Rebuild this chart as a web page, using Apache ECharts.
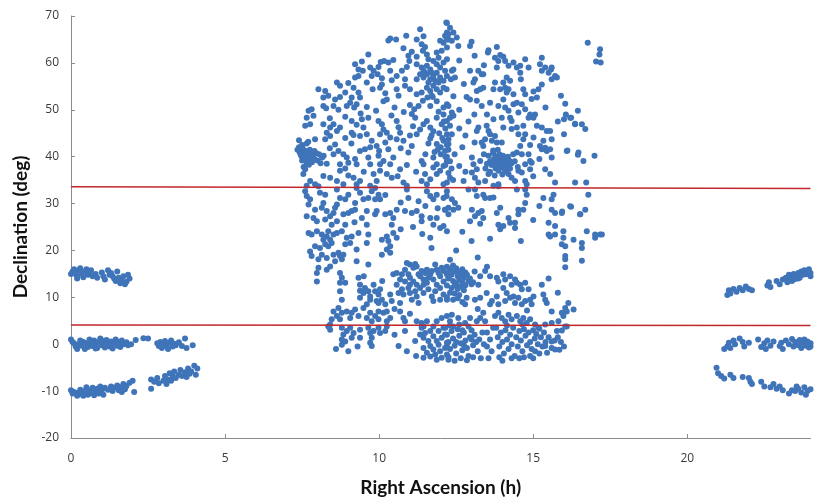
<!DOCTYPE html>
<html>
<head>
<meta charset="utf-8">
<script src="https://cdn.jsdelivr.net/npm/echarts@6/dist/echarts.min.js"></script>
<style>html,body{margin:0;padding:0;background:#ffffff;}#chart{width:818px;height:502px;}</style>
</head>
<body>
<div id="chart"></div>
<script>
// ---- axis settings ----
var xTicks = [0, 5, 10, 15, 20];
var yTicks = [-20, -10, 0, 10, 20, 30, 40, 50, 60, 70];

// ---- red reference lines (declination limits) ----
var upperLimit = [[0, 33.6], [24, 33.2]];
var lowerLimit = [[0, 4.1], [24, 4.0]];

// ---- left-edge groups (RA 0-4h) ----
var leftHigh = [[0.05,15.5],[0.1,16],[0.15,15],[0.2,14.5],[0.25,15.8],[0.3,16.2],[0.35,15],[0.4,14.3],[0.45,15.5],[0.5,16],[0.55,14.8],[0.6,15.2],[0.7,14.5],[0.8,15],[0.85,14.2],[1.0,15.3],[1.05,14.5],[1.1,13.8],[1.2,15.8],[1.25,14.8],[1.3,15.2],[1.4,14],[1.45,13.5],[1.5,15.5],[1.55,14.2],[1.6,13],[1.65,13.5],[1.7,14.5],[1.75,12.8],[1.8,13.3],[1.85,14.8],[1.9,14],[0.0,15],[0.2,14],[0.65,15.8],[1.35,14.5]];
var leftMid = [[0.0,1],[0.05,0.5],[0.1,0.2],[0.15,-0.5],[0.2,-1],[0.25,0],[0.3,0.8],[0.35,-0.3],[0.4,0.5],[0.45,-1],[0.5,0.2],[0.55,-0.6],[0.6,1],[0.65,0.3],[0.7,-0.4],[0.75,0.8],[0.8,0],[0.85,-0.8],[0.9,0.5],[0.95,1.2],[1.0,-0.2],[1.05,0.4],[1.1,-0.7],[1.15,0.9],[1.2,0.1],[1.25,-0.5],[1.3,0.6],[1.35,-0.9],[1.4,0.3],[1.45,1.0],[1.5,-0.3],[1.55,0.5],[1.6,-0.6],[1.65,0.8],[1.7,0],[1.8,0.4],[1.85,-0.2],[1.95,0],[2.1,0.9],[2.35,1.3],[2.5,1.2],[2.8,0.2],[2.85,-0.4],[2.9,0.5],[2.95,-0.8],[3.0,0],[3.05,0.7],[3.1,-0.3],[3.15,-1],[3.2,0.3],[3.25,0.8],[3.3,-0.5],[3.35,0.1],[3.4,-0.2],[3.5,0.4],[3.6,-0.4],[3.7,1.2],[3.75,-0.8],[3.95,-0.2],[1.0,0.8],[0.8,-0.9],[1.3,-0.1]];
var leftLow = [[0.0,-9.8],[0.05,-10.5],[0.1,-10.2],[0.2,-11],[0.25,-10.3],[0.3,-9.7],[0.35,-10.6],[0.4,-11],[0.45,-10],[0.5,-9.2],[0.55,-10.8],[0.6,-9.8],[0.65,-10.4],[0.7,-9.3],[0.75,-10.9],[0.8,-10],[0.85,-9.5],[0.9,-10.5],[0.95,-9],[1.0,-9.8],[1.05,-10.8],[1.1,-9.3],[1.2,-9.7],[1.3,-9],[1.35,-10],[1.4,-9.3],[1.5,-8.8],[1.55,-9.8],[1.6,-9.2],[1.65,-10.2],[1.7,-8.5],[1.75,-9.6],[1.8,-8.9],[1.9,-8.2],[2.0,-7.8],[2.05,-10.2],[2.6,-9.5],[2.6,-7.5],[2.7,-8],[2.8,-7.2],[2.85,-8.3],[3.0,-7.8],[3.05,-6.8],[3.1,-8.5],[3.15,-7.5],[3.2,-6.2],[3.25,-7.8],[3.3,-6.8],[3.35,-5.8],[3.4,-7.2],[3.5,-6.5],[3.55,-5.5],[3.6,-6.8],[3.7,-6],[3.75,-7],[3.8,-5.2],[3.85,-6.3],[3.9,-5.8],[4.0,-4.6],[4.05,-6.5],[4.1,-5.2]];

// ---- right-edge groups (RA 21-24h) ----
var rightHigh = [[21.3,10.5],[21.35,11.5],[21.4,10.8],[21.5,11.8],[21.6,11.2],[21.7,12],[21.8,11.5],[21.9,12.3],[22.0,11.8],[22.1,11.5],[22.6,12.5],[22.65,13.2],[22.7,12.2],[22.9,13.5],[23.0,12.8],[23.1,13.8],[23.2,14.2],[23.25,13.2],[23.3,14.8],[23.35,13.8],[23.4,14.3],[23.45,15],[23.5,13.9],[23.55,14.6],[23.6,15.2],[23.65,14.2],[23.7,15.5],[23.75,14.8],[23.8,15.8],[23.85,14.9],[23.9,15.3],[23.95,16],[24.0,15.2],[24.0,14.5],[23.6,14],[23.4,13.5]];
var rightMid = [[21.2,-1],[21.3,-0.5],[21.35,0.3],[21.4,-0.8],[21.5,0.8],[21.55,0],[21.7,1.2],[21.8,0.5],[21.85,-0.5],[22.0,0.3],[22.3,1],[22.4,-0.6],[22.5,0.2],[22.55,-1],[22.6,0.8],[22.7,-0.3],[22.8,0.6],[23.0,-0.4],[23.05,0.3],[23.1,-1],[23.2,0.8],[23.3,0],[23.4,1.1],[23.45,-0.5],[23.5,0.5],[23.6,-0.2],[23.65,0.9],[23.7,-0.8],[23.75,0.3],[23.8,1],[23.85,-0.3],[23.9,0.6],[23.95,-0.7],[24.0,0.2],[24.0,-0.5],[23.9,0.0]];
var rightLow = [[20.95,-5],[21.0,-6.2],[21.1,-6.8],[21.2,-7.3],[21.4,-6.5],[21.5,-7.2],[21.8,-7],[22.0,-7.2],[22.05,-8],[22.1,-8.5],[22.4,-8],[22.5,-9],[22.7,-9.2],[22.8,-8.5],[22.9,-9.5],[23.0,-9],[23.1,-9.8],[23.3,-10.5],[23.4,-9.8],[23.5,-10],[23.55,-9],[23.6,-9.5],[23.7,-10.3],[23.8,-9.2],[23.85,-10.8],[23.9,-10],[24.0,-9.6]];

// ---- central field, north-west part (RA 7-12.3h, Dec 33-69) ----
var coreNW = [[12.18,68.6],[12.2,66.5],[11.33,67.2],[11.44,65.7],[10.88,65.8],[10.3,64.8],[10.36,65.2],[10.55,65.0],[11.22,65.0],[12.14,65.8],[12.09,64.3],[11.98,64.7],[12.25,65.0],
[11.38,64.0],[11.49,63.4],[11.42,62.6],[11.55,61.8],[10.79,63.1],[11.06,62.4],[10.95,61.5],[11.87,62.2],[12.03,62.6],[12.2,63.3],[9.65,61.8],[11.22,61.3],
[9.22,59.7],[9.44,60.3],[9.33,58.6],[9.47,58.3],[9.71,59.0],[9.82,58.3],[10.05,60.2],[9.98,59.1],[10.16,60.4],[10.3,60.1],[10.46,60.6],[10.74,58.3],[10.9,59.1],[10.98,60.4],[11.22,59.7],[11.38,59.0],[11.55,59.4],[11.66,58.6],[11.76,60.4],[11.87,59.7],[11.98,59.0],[12.09,60.1],[12.2,60.8],[11.44,58.3],[11.6,60.8],[11.93,61.1],
[9.22,56.9],[9.33,57.2],[9.76,57.2],[9.95,57.6],[10.09,56.7],[10.36,58.3],[10.41,56.3],[10.57,57.2],[10.84,56.5],[11.33,57.6],[11.44,56.9],[11.55,57.6],[11.66,56.5],[11.76,57.2],[11.87,57.9],[11.98,56.9],[12.09,56.2],[11.82,56.2],[11.6,55.8],[12.2,57.2],[11.22,56.5],[11.71,57.9],[11.93,55.8],[11.49,57.9],
[8.63,55.8],[8.73,55.1],[9.0,55.7],[9.17,54.7],[9.33,53.7],[9.38,52.6],[9.11,52.6],[8.03,54.4],[8.25,54.0],[8.35,53.0],[8.19,52.6],[8.57,52.2],[8.73,52.7],[8.9,53.7],[9.79,54.4],[10.03,54.7],[10.09,55.4],[10.57,54.4],[10.63,53.0],[10.84,55.1],[11.0,54.4],[11.55,54.7],[11.66,54.0],[11.76,55.1],[11.87,54.4],[11.98,53.7],[11.71,53.0],[12.09,54.7],[11.22,53.3],[11.38,53.7],
[9.06,51.5],[8.19,50.8],[8.28,50.3],[8.52,50.8],[8.68,50.0],[8.95,50.8],[9.19,50.5],[9.27,51.2],[9.6,50.6],[10.25,52.2],[10.14,51.8],[11.0,51.0],[11.14,50.1],[11.28,50.8],[11.06,49.1],[11.42,51.9],[11.57,52.6],[11.74,52.7],[11.66,50.8],[11.87,51.8],[12.09,50.5],[12.2,51.2],[7.71,49.8],
[7.81,50.1],[7.65,48.3],[7.87,48.7],[7.6,46.6],[7.76,46.9],[8.19,46.9],[8.41,46.2],[8.52,46.9],[9.11,47.6],[9.27,46.8],[9.44,48.0],[9.49,46.2],[9.65,48.3],[9.98,47.6],[10.09,46.9],[10.57,47.6],[10.63,46.3],[11.17,48.3],[11.55,47.6],[11.87,48.3],[11.93,49.6],[12.09,49.0],[12.2,47.6],[12.03,46.9],
[8.63,45.5],[8.73,46.2],[8.3,45.1],[8.41,44.4],[9.11,45.1],[9.17,44.6],[9.38,44.4],[9.6,44.8],[10.14,45.8],[10.03,44.8],[10.25,45.1],[10.68,45.1],[11.33,45.8],[11.44,46.9],[11.66,46.2],[11.76,45.4],[11.22,44.8],[12.2,44.8],
[8.25,43.7],[7.92,43.7],[10.36,44.1],[10.57,43.7],[10.79,43.4],[11.06,42.3],[9.76,43.4],[9.92,42.3],[10.2,43.0],[8.57,42.6],[8.68,41.2],[9.38,41.2],[9.54,41.6],[9.71,42.0],[10.3,41.6],[12.09,43.4],[12.25,42.7],[11.87,42.7],[11.66,43.9],[12.14,41.2],
[7.35,41.5],[7.4,42],[7.42,41],[7.45,40.5],[7.5,42.5],[7.52,41.8],[7.55,40.8],[7.58,40],[7.6,39.5],[7.62,41.2],[7.65,42.8],[7.68,40.2],[7.7,39],[7.72,38.3],[7.75,41.5],[7.78,40.6],[7.8,39.8],[7.82,38.8],[7.85,40.2],[7.9,39.5],[7.95,40.8],[8.0,39.2],[8.05,40.5],[8.1,38.6],[8.15,39.8],[7.5,39.2],[7.4,43.5],[7.55,37.8],[7.65,38.5],[7.9,41.2],[7.48,40.1],[7.7,43.2],[8.2,40.2],
[8.52,40.5],[8.84,40.5],[8.95,39.8],[8.73,38.4],[9.0,38.7],[9.22,39.5],[9.27,38.4],[9.65,39.8],[9.71,38.4],[9.98,40.2],[10.14,39.1],[10.03,38.4],[10.36,38.4],[10.46,39.8],[10.95,40.9],[11.38,39.1],[11.44,38.4],[11.76,39.8],[11.87,38.4],[12.2,39.1],
[8.9,37.5],[8.73,37.0],[8.19,35.9],[8.41,35.5],[10.03,37.0],[10.25,36.3],[10.68,37.3],[10.41,35.5],[9.82,36.3],[11.49,36.3],[11.76,37.7],[11.87,36.3],[11.98,37.0],[12.09,38.0],[7.76,34.8],[7.54,36.3],[7.6,37.3],
[7.92,34.1],[8.63,34.8],[8.84,34.1],[9.17,35.5],[9.27,34.1],[9.38,34.8],[9.71,33.8],[9.92,34.8],[10.79,34.5],[10.9,33.8],[11.38,34.8],[11.55,34.1],[11.66,35.2],[12.09,34.1],[7.65,33.8],
[11.95,45.0],[12.05,44.0],[12.15,46.0],[11.9,41.5],[12.0,40.5],[12.15,40.0],[11.8,41.0],[12.0,42.0],[11.7,44.5],[12.1,47.5],[11.6,42.8],[11.5,40.5],
[10.5,50.5],[10.8,49.5],[10.4,48.8],[9.9,49.8],[9.4,49.2],[8.9,48.5],[10.7,41.8],[11.0,44.5],[10.9,38.2],[11.2,36.8],[10.6,35.8],[9.5,36.8],[9.0,36.0],[8.3,38.5],[8.4,41.8],[9.1,42.8],[10.0,41.2],[11.1,46.5],[10.2,53.5],[9.6,55.8],[8.4,48.2],[8.9,44.0]];

// ---- central field, north-east part (RA 12.1-17.3h, Dec 33-69) ----
var coreNE = [[12.3,67.5],[12.41,66.5],[12.25,66.1],[12.19,65.0],[12.36,64.7],[12.52,65.4],[12.57,63.6],[12.2,68.5],
[13.0,64.5],[12.95,63.6],[13.55,62.7],[13.53,62.2],[13.82,63.4],
[13.76,61.1],[13.93,61.7],[14.03,61.3],[13.87,60.4],[14.09,60.4],[13.82,59.0],[14.2,59.4],[14.36,60.1],[14.47,59.0],[14.58,59.4],[14.74,60.8],[14.85,59.0],[14.58,57.9],[15.28,61.1],[15.22,59.7],[15.39,59.0],[15.28,58.3],[15.6,59.0],[15.5,57.9],[15.71,57.2],[15.6,56.5],[15.77,56.9],[15.58,58.6],
[16.77,64.3],[17.17,62.9],[17.15,61.8],[17.04,60.3],[17.19,60.1],
[12.14,58.3],[12.36,58.3],[12.41,58.6],[12.95,58.3],[13.22,58.3],[13.33,57.6],[12.33,56.5],[12.46,56.9],[13.11,56.5],[13.06,55.8],[13.38,57.6],
[13.28,54.4],[13.17,54.0],[13.38,54.7],[13.76,55.8],[13.71,54.4],[13.93,54.4],[14.03,55.8],[14.09,54.7],[14.14,53.7],[14.2,54.4],[14.14,56.9],[14.25,56.2],[14.74,53.3],[14.68,54.4],[15.01,53.9],[15.17,54.4],[15.28,55.4],[15.12,52.6],[14.95,52.3],[14.36,53.3],[12.41,52.9],[12.19,54.4],
[12.84,52.7],[12.95,52.2],[13.17,51.9],[13.33,50.8],[13.6,51.5],[13.87,50.8],[14.03,52.2],[14.09,50.5],[14.2,49.8],[14.36,51.2],[14.47,51.5],[14.63,51.2],[14.74,50.1],[14.52,49.4],[14.9,49.0],[15.01,48.3],[14.85,48.3],[15.06,49.0],[14.25,48.3],[13.98,48.3],[14.3,47.6],[12.25,50.8],[12.36,49.4],[12.3,48.3],[12.41,48.7],[13.09,49.0],[13.71,48.0],
[15.12,46.6],[15.28,46.2],[15.44,45.5],[14.68,46.6],[14.47,46.2],[14.3,45.9],[14.03,46.2],[13.49,46.6],[13.55,45.5],[13.22,46.2],[13.17,45.5],[12.3,46.6],[12.36,44.8],[12.25,43.7],[16.04,51.3],[16.06,49.0],[16.0,48.0],[16.23,48.3],[16.45,49.8],[16.36,46.9],[16.58,46.9],[16.69,45.9],[16.0,44.8],[15.55,45.5],[16.2,48.3],[16.36,47.0],[16.11,41.3],
[13.76,44.4],[13.6,44.8],[13.44,43.7],[13.66,43.4],[13.82,43.0],[13.38,42.3],[13.33,43.0],[13.98,43.0],[14.52,44.8],[14.74,44.8],[14.68,43.7],[15.01,44.1],[15.33,43.4],[15.6,43.7],[15.22,42.3],[15.39,41.9],[15.44,41.2],[15.28,41.6],[15.55,41.6],[15.6,39.8],[16.09,41.2],[16.47,40.9],[16.45,40.4],[16.63,39.1],[16.99,40.2],[14.58,42.3],[14.47,40.9],[14.63,40.5],[14.85,40.5],[14.9,39.1],[14.74,38.4],
[13.55,40.2],[13.6,39.0],[13.65,38.2],[13.7,40.8],[13.72,39.5],[13.75,38.6],[13.78,37.5],[13.8,40.0],[13.82,39.2],[13.85,38.0],[13.88,37.0],[13.9,40.5],[13.92,39.6],[13.95,38.5],[13.98,37.8],[14.0,39.0],[14.02,40.2],[14.05,38.2],[14.08,37.2],[14.1,39.5],[14.12,38.7],[14.15,36.8],[14.18,40.0],[14.2,38.0],[14.22,39.2],[14.25,37.5],[14.3,38.6],[13.7,41.3],[13.6,36.8],[14.35,40.5],[13.85,41.5],[13.5,38.5],[14.0,36.2],[14.4,39.0],[13.75,36.0],[14.5,37.8],[13.4,40.5],[13.45,37.5],
[12.2,42.5],[12.25,41.5],[12.2,40.0],[12.3,39.0],[12.15,38.2],[12.35,37.5],[12.25,36.5],[12.3,35.5],[12.2,34.5],[12.45,40.5],[12.4,35.0],
[13.01,39.8],[13.06,38.4],[13.17,37.3],[13.01,36.6],[13.11,35.5],[13.22,34.5],[12.74,34.8],[13.28,39.1],[14.2,36.3],[14.3,35.5],[14.41,34.8],[14.63,36.6],[14.74,34.8],[14.79,34.1],[14.52,37.0],[14.9,37.3],[14.95,38.7],[15.55,36.3],[15.71,34.5],[15.39,37.3],[16.36,34.5],[16.72,34.5],[13.87,34.1],[13.71,33.8],[13.44,34.8],[13.55,36.3],
[12.6,46.0],[12.8,44.5],[12.7,42.0],[12.9,47.5],[12.6,50.0],[12.75,55.5],[12.6,60.5],[13.4,59.5],[13.1,61.5],[12.6,38.0],[12.8,36.8],[15.0,35.8],[15.2,39.5],[15.8,47.5],[15.9,53.0],[15.4,50.5],[14.6,56.5],[13.5,49.0],[13.1,43.0],[14.9,42.5]];

// ---- central field, south-west part (RA 7.5-12.3h, Dec -4 to 34) ----
var coreSW = [[7.6,32.6],[7.65,31.6],[7.76,30.9],[7.71,29.8],[8.03,33.7],[8.08,32.3],[8.25,31.9],[8.19,30.1],[8.63,33.0],[8.73,31.2],[8.9,30.9],[9.0,31.9],[9.27,33.3],[9.38,32.3],[9.49,30.9],[9.65,31.2],[9.76,32.6],[9.87,33.3],[9.98,31.9],[10.03,30.9],[9.87,30.9],[10.9,33.0],[10.95,31.2],[11.28,30.5],[11.55,32.6],[11.66,31.6],[11.76,30.9],[11.87,31.9],[12.09,31.2],[12.2,32.6],[8.63,29.8],[9.22,30.1],
[7.92,28.7],[8.14,29.1],[8.3,28.4],[7.65,27.3],[7.87,26.9],[7.98,26.2],[8.25,26.6],[8.41,27.3],[8.52,28.0],[8.57,29.1],[8.84,27.7],[9.0,28.0],[9.11,28.4],[9.22,28.7],[9.44,26.9],[9.6,28.4],[9.87,27.7],[9.92,28.4],[10.2,27.7],[10.36,28.0],[10.46,26.9],[10.57,28.7],[10.84,28.4],[11.06,28.0],[11.22,28.4],[11.38,27.3],[11.38,26.2],[11.66,26.9],[11.87,26.9],[12.14,28.7],[12.25,27.7],[8.63,26.2],[8.46,25.5],[9.6,25.5],[10.41,25.5],
[7.71,23.7],[7.81,23.4],[7.98,24.1],[8.14,23.4],[8.19,22.3],[8.3,23.0],[8.35,24.1],[8.41,22.3],[8.52,23.4],[8.63,23.7],[8.25,21.3],[7.92,20.9],[8.08,20.5],[8.35,20.9],[8.46,21.6],[8.79,24.1],[8.95,22.7],[9.11,23.0],[9.06,21.6],[8.9,21.3],[9.33,23.7],[9.65,23.4],[9.6,21.6],[10.09,22.3],[10.25,23.0],[10.3,22.0],[10.36,20.9],[10.46,23.7],[10.57,22.7],[11.66,22.7],[11.98,24.8],[12.09,25.2],[12.2,24.1],[11.76,25.5],
[7.81,18.8],[7.76,19.8],[8.03,18.1],[8.14,19.1],[8.3,18.4],[8.52,19.1],[8.68,19.5],[8.73,18.8],[8.84,19.1],[8.57,17.7],[8.79,18.1],[9.27,20.2],[9.27,17.7],[9.65,17.0],[10.09,19.1],[10.25,20.2],[10.36,19.5],
[8.03,16.3],[7.98,15.2],[8.3,15.9],[8.41,16.6],[8.73,15.2],[8.79,14.2],[8.9,13.1],[9.33,14.2],[7.98,13.4],[8.73,13.1],
[10.9,17.3],[11.0,17.0],[11.17,17.1],[11.11,16.3],[11.22,16.6],[10.84,15.9],[10.57,15.2],[10.46,14.9],[10.74,14.9],[10.95,14.9],[10.68,13.8],[10.84,13.4],[11.0,14.2],[11.11,13.4],[11.28,14.9],[11.38,15.6],[11.55,15.9],[11.66,14.9],[11.82,17.0],[11.87,15.9],[12.09,15.6],[12.2,14.9],[11.98,14.5],[11.44,13.8],[11.55,13.1],[11.76,13.8],[11.22,12.7],[12.09,13.4],[12.25,14.2],[11.87,12.7],[11.33,14.5],[11.49,15.2],[11.6,14.2],[11.71,15.6],[11.93,15.2],[12.03,16.3],
[10.57,12.7],[10.74,11.7],[10.63,10.9],[10.79,10.6],[10.95,12.0],[11.0,10.9],[11.17,11.3],[11.22,10.2],[11.33,12.0],[11.44,10.9],[11.6,11.7],[11.71,10.2],[11.76,9.2],[11.82,11.3],[11.98,12.0],[12.09,10.6],[12.2,9.5],[11.98,9.5],[11.28,8.8],[11.06,9.5],[10.41,9.2],[10.68,8.8],[11.0,12.7],[11.44,12.7],
[9.38,12.7],[9.54,12.0],[9.49,10.9],[9.65,11.3],[9.71,10.2],[9.82,12.7],[9.87,11.3],[9.98,10.6],[10.03,11.7],[10.09,9.5],[9.92,9.2],[9.71,9.5],[9.38,9.9],[9.6,8.5],[8.73,11.3],[8.79,9.5],[9.38,11.4],[9.98,8.8],[10.2,8.5],[10.36,10.6],
[8.52,7.0],[8.68,7.7],[8.79,6.7],[8.63,6.0],[8.73,5.3],[8.95,7.0],[9.11,6.7],[9.22,7.4],[9.33,6.0],[9.06,5.6],[9.49,7.7],[9.71,6.7],[9.87,6.0],[9.98,7.0],[10.14,6.7],[10.25,7.0],[9.6,5.6],[9.76,4.9],[9.98,5.3],[10.25,4.9],[10.36,5.6],[10.68,7.0],[10.79,5.6],[10.84,4.9],[8.46,5.3],[8.41,4.2],[11.22,4.9],[11.38,4.5],[11.44,3.8],[11.55,4.9],[12.03,5.6],[12.2,6.0],[11.87,4.9],
[8.35,3.8],[8.41,3.1],[8.79,3.5],[8.95,2.8],[9.06,3.5],[8.84,2.1],[8.79,1.0],[8.9,0.6],[9.11,1.4],[9.17,2.4],[9.38,3.1],[9.38,1.4],[9.65,3.5],[9.71,2.4],[9.76,1.4],[9.82,2.8],[9.98,3.5],[10.03,2.4],[10.2,2.8],[10.25,3.8],[9.76,-0.4],[9.71,0.3],[8.79,-0.1],[10.63,-0.4],[10.84,2.8],[11.17,0.7],[11.38,3.5],[11.49,2.4],[11.44,1.4],[11.66,2.8],[11.6,0.7],[11.76,1.7],[11.87,0.7],[11.93,2.8],[12.03,1.4],[12.14,2.1],[12.2,0.3],[12.09,3.5],[11.76,3.8],[11.33,2.1],
[11.44,-0.8],[11.55,-1.8],[11.44,-2.9],[11.66,-2.6],[11.76,-1.1],[11.82,-2.2],[11.87,-3.3],[11.98,-1.5],[12.03,-2.9],[12.14,-0.8],[12.2,-2.2],[12.25,-3.3],[11.66,-0.4],[11.93,-0.1],
[10.7,24.5],[11.1,25.0],[11.4,23.5],[11.5,29.5],[10.7,30.2],[10.2,31.8],[9.2,26.0],[8.9,25.5],[11.9,29.0],[11.7,20.5],[9.5,14.5],[10.1,13.5],[10.5,7.5],[11.0,6.5],[10.5,2.0],[10.9,-1.5],[11.2,-2.5],[9.3,-0.5],[8.6,-1.0],[9.0,-1.5]];

// ---- central field, south-east part (RA 12.1-17.3h, Dec -4 to 34) ----
var coreSE = [[12.19,31.6],[12.36,30.9],[12.46,30.1],[12.25,29.1],[12.41,28.7],[12.57,29.1],[12.9,33.0],[13.11,33.0],[13.17,31.6],[13.44,31.2],[13.6,31.2],[13.71,31.3],[13.38,31.9],[13.01,28.7],[13.11,27.3],[13.22,28.0],[13.38,26.9],[13.33,28.4],[12.95,26.2],[13.28,25.7],[13.82,28.0],[13.93,29.1],[13.87,25.5],[13.93,24.5],[14.03,25.2],[14.2,26.9],[14.25,25.9],[14.41,24.8],[14.41,25.9],[14.52,27.7],[14.52,28.7],[14.68,28.7],[14.74,30.1],[14.79,31.9],[14.74,33.0],[14.47,33.0],[13.87,33.7],[15.33,31.2],[15.6,30.9],[15.66,31.9],[15.6,28.7],[15.71,28.0],[15.93,28.0],[16.2,29.4],[16.52,27.7],[16.69,28.7],[16.79,31.9],[15.5,25.9],[15.71,25.2],[15.5,23.4],[15.55,23.0],[15.71,23.4],[15.98,22.7],[15.93,21.3],[16.04,20.9],[16.31,22.3],[16.58,21.6],[16.58,20.5],[16.74,24.1],[17.01,23.4],[17.01,22.7],[17.17,23.4],[16.04,18.8],[16.04,18.1],[16.04,16.4],[16.58,17.8],[15.98,24.1],[12.14,28.7],[16.23,29.3],[15.94,28.3],[16.53,27.7],[17.23,23.4],
[12.2,16.5],[12.3,16.0],[12.4,16.8],[12.5,16.2],[12.6,15.5],[12.7,16.0],[12.8,15.3],[12.2,15.2],[12.35,14.8],[12.45,15.5],[12.55,14.5],[12.65,14.9],[12.75,14.2],[12.85,14.8],[12.95,14.0],[12.25,14.0],[12.4,13.5],[12.5,13.0],[12.6,13.8],[12.7,13.2],[12.8,12.6],[12.9,13.5],[13.0,12.8],[12.2,12.5],[12.35,12.0],[12.45,12.5],[12.55,11.8],[12.65,12.3],[12.75,11.5],[12.3,11.0],[12.45,10.8],[12.6,10.5],[12.2,10.0],[12.4,9.5],[12.55,9.8],[12.7,9.0],[13.1,15.5],[13.05,13.2],
[13.28,14.5],[13.44,15.6],[13.6,14.5],[13.82,14.2],[13.87,13.4],[14.03,14.9],[14.09,13.8],[14.25,14.5],[14.41,13.8],[14.47,13.1],[14.58,12.7],[14.74,13.1],[14.85,11.7],[13.22,12.7],[13.49,10.9],[13.28,9.9],[13.11,9.5],[13.66,9.2],[13.6,8.5],[13.87,8.5],[14.03,12.0],[14.14,10.9],[14.25,9.9],[14.36,10.2],[14.41,8.8],[14.52,9.9],[14.63,8.5],[14.74,9.2],[14.9,9.5],[15.01,10.2],[14.95,8.5],[15.33,10.6],[15.39,9.5],[15.44,8.8],[15.28,12.7],[12.79,8.5],[12.84,9.9],[14.3,12.7],[14.63,11.7],[14.09,9.2],[13.82,10.2],
[16.14,8.8],[16.04,7.7],[16.09,7.0],[15.93,6.7],[16.31,7.4],[15.98,6.0],[16.09,3.8],
[12.36,6.3],[12.57,5.6],[12.3,4.9],[12.79,4.5],[12.95,5.6],[13.17,4.9],[13.28,5.6],[13.38,6.7],[13.44,4.9],[13.76,6.0],[13.87,6.7],[13.98,5.6],[14.09,4.9],[14.2,6.3],[14.3,5.3],[14.47,6.0],[14.58,4.9],[14.68,5.6],[14.79,4.5],[14.9,5.3],[15.06,4.2],[15.17,3.5],[15.39,4.2],[15.6,4.5],[15.82,4.9],[15.93,2.9],[16.04,3.8],[15.77,2.8],
[12.15,3.5],[12.2,2.0],[12.25,0.5],[12.3,-1.0],[12.35,2.8],[12.4,1.2],[12.45,-0.3],[12.5,-2.0],[12.55,3.2],[12.6,1.8],[12.65,0.2],[12.7,-1.3],[12.75,2.5],[12.8,0.8],[12.85,-0.8],[12.9,-2.5],[12.95,1.5],[13.0,3.0],[13.05,-0.2],[13.1,2.0],[13.15,0.5],[13.2,-1.5],[13.25,1.0],[13.3,-3.0],[12.25,-2.8],[12.45,-3.5],[12.65,-3.0],[12.85,-3.4],[13.05,-2.8],[12.3,4.0],[12.6,4.2],[12.9,3.8],[13.35,2.5],[13.4,0.0],[12.2,-0.5],[12.5,0.5],[12.75,-0.2],[13.0,1.0],[12.4,3.8],[12.7,3.0],
[13.8,3.5],[13.85,1.5],[13.9,-0.5],[13.95,2.5],[14.0,0.5],[14.05,-2.0],[14.1,3.0],[14.15,1.0],[14.2,-1.0],[14.25,2.0],[14.3,0.0],[14.35,3.5],[14.4,-2.5],[14.45,1.5],[14.5,-0.5],[14.55,2.8],[14.6,0.8],[14.65,-1.5],[14.7,3.2],[14.75,1.8],[14.8,-0.2],[14.85,2.5],[14.9,0.5],[14.95,-1.0],[15.0,3.0],[15.05,1.2],[15.1,2.2],[15.15,0.0],[15.2,3.3],[15.25,1.5],[15.3,-0.5],[15.35,2.5],[15.4,0.5],[14.7,-2.8],[14.9,-2.5],[14.55,-3.0],[14.3,-3.0],[13.9,-2.8],[14.15,4.0],[14.65,4.2],[15.5,1.5],[15.6,-0.8],[15.7,0.8],[15.45,-1.8],[15.2,-2.0],[13.6,1.0],[13.65,-1.5],[13.5,2.5],[13.55,-3.0],[15.8,1.5],[16.0,-0.5],[15.85,-1.2],[15.6,0.6],[15.39,-0.4],[15.71,-1.1],[15.06,-1.5],
[12.7,24.0],[13.0,22.0],[12.5,20.0],[13.6,22.5],[14.6,22.0],[15.0,26.5],[15.2,29.5],[13.2,18.5],[12.3,18.0],[13.5,16.5],[15.5,14.0],[15.8,11.0],[13.2,7.5],[14.8,7.2],[15.6,7.0],[13.5,-0.5],[13.7,3.5],[14.0,-3.5],[15.0,-3.0],[15.9,0.5]];

var stars = [].concat(leftHigh, leftMid, leftLow, rightHigh, rightMid, rightLow, coreNW, coreNE, coreSW, coreSE);

var chart = echarts.init(document.getElementById('chart'), null, {renderer: 'canvas'});
var axisLineStyle = {color: '#8c8c8c', width: 1};
var labelStyle = {color: '#3a3a3a', fontSize: 12, fontFamily: 'Open Sans'};
chart.setOption({
  backgroundColor: '#ffffff',
  animation: false,
  grid: {left: 71, right: 7.5, top: 16, bottom: 64, containLabel: false},
  xAxis: {
    type: 'value', min: 0, max: 24, interval: 5,
    name: 'Right Ascension (h)', nameLocation: 'middle', nameGap: 40,
    nameTextStyle: {fontFamily: 'Lato', fontWeight: 'bold', fontSize: 19, color: '#111'},
    axisLine: {show: true, onZero: false, lineStyle: axisLineStyle},
    axisTick: {show: true, inside: true, length: 4, lineStyle: axisLineStyle},
    axisLabel: Object.assign({margin: 15, showMaxLabel: false}, labelStyle),
    splitLine: {show: false}
  },
  yAxis: {
    type: 'value', min: -20, max: 70, interval: 10,
    name: 'Declination (deg)', nameLocation: 'middle', nameGap: 36,
    nameTextStyle: {fontFamily: 'Lato', fontWeight: 'bold', fontSize: 19, color: '#111'},
    axisLine: {show: true, onZero: false, lineStyle: axisLineStyle},
    axisTick: {show: true, inside: true, length: 4, lineStyle: axisLineStyle},
    axisLabel: Object.assign({margin: 12}, labelStyle),
    splitLine: {show: false}
  },
  series: [
    {type: 'scatter', data: stars, symbolSize: 6, itemStyle: {color: '#3f74b9', opacity: 1}, z: 2},
    {type: 'line', data: upperLimit, showSymbol: false, lineStyle: {color: '#c0282d', width: 1.5}, z: 3},
    {type: 'line', data: lowerLimit, showSymbol: false, lineStyle: {color: '#c0282d', width: 1.5}, z: 3}
  ]
});
</script>
</body>
</html>
